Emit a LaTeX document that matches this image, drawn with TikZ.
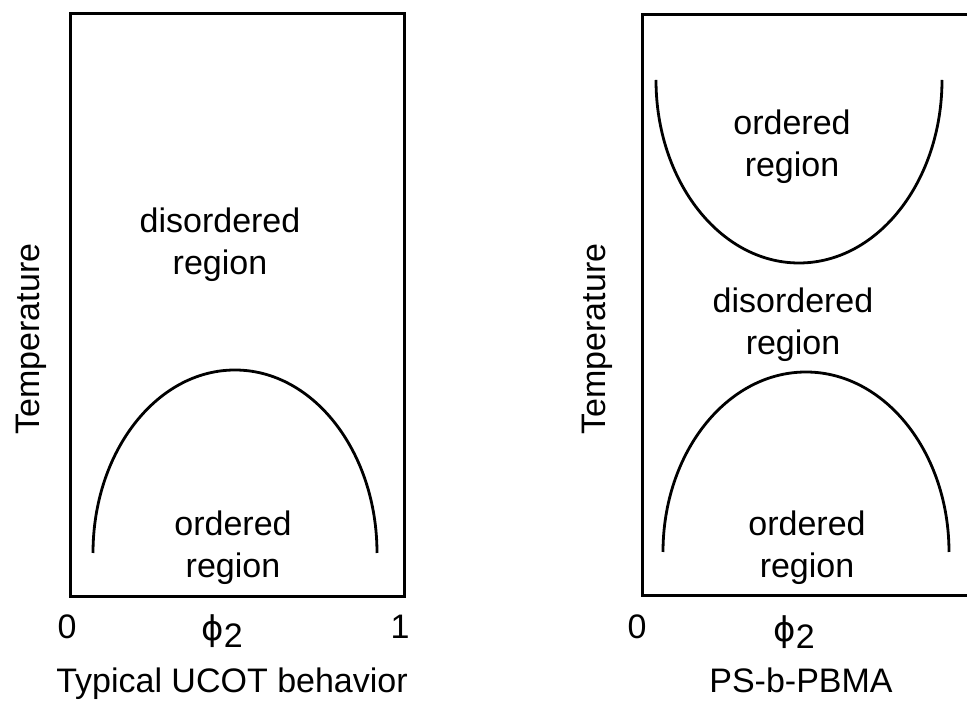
\documentclass[tikz,border=0pt]{standalone}
\usepackage{fontspec}
\setmainfont{Liberation Sans}
\newfontfamily\greekfont{DejaVu Sans}
\usepackage{tikz}
\usetikzlibrary{positioning}
\newcommand{\phitwo}{{\greekfont ϕ}\raisebox{-0.22em}{2}}

\begin{document}
\begin{tikzpicture}[x=1pt,y=1pt,
    frame/.style={line width=3pt,line join=miter},
    curve/.style={line width=2.8pt},
    lbl/.style={font=\fontsize{34}{42}\selectfont,align=center,inner sep=0pt}]
  \useasboundingbox (0,0) rectangle (967,701);
  \def\ybot{104}
  \def\ytop{687}

  % Left panel: box, coexistence curve and region labels.
  \draw[frame] (70,\ybot) rectangle (404,\ytop);
  \draw[curve] (93,148) arc[start angle=180,end angle=0,x radius=142,y radius=183];
  \node[lbl] (disL) at (220,456) {disordered\\region};
  \node[lbl] (ordL) at (233,153) {ordered\\region};

  % Right panel: box runs off the right edge of the page.
  \draw[frame] (975,686) -- (642,686) -- (642,105) -- (975,105);
  \draw[curve] (656,621) arc[start angle=180,end angle=360,x radius=143,y radius=183];
  \draw[curve] (663,149) arc[start angle=180,end angle=0,x radius=143,y radius=180];
  \node[lbl] (ordRtop) at (792,554) {ordered\\region};
  \node[lbl] (disR) at (793,376) {disordered\\region};
  \node[lbl] (ordRbot) at (807,153) {ordered\\region};

  % Axis labels.
  \foreach \xx/\nm in {31/tempL,597/tempR}{
    \node[lbl,rotate=90] (\nm) at (\xx,362) {Temperature};
  }
  \node[lbl] (zeroL) at (67,74) {0};
  \node[lbl] (phiL) at (222,70) {\phitwo};
  \node[lbl] (oneL) at (400,74) {1};
  \node[lbl] (capL) at (232,17) {Typical UCOT behavior};
  \node[lbl] (zeroR) at (637,74) {0};
  \node[lbl] (phiR) at (794,69) {\phitwo};
  \node[lbl] (capR) at (801,21) {PS-b-PBMA};
\end{tikzpicture}
\end{document}
